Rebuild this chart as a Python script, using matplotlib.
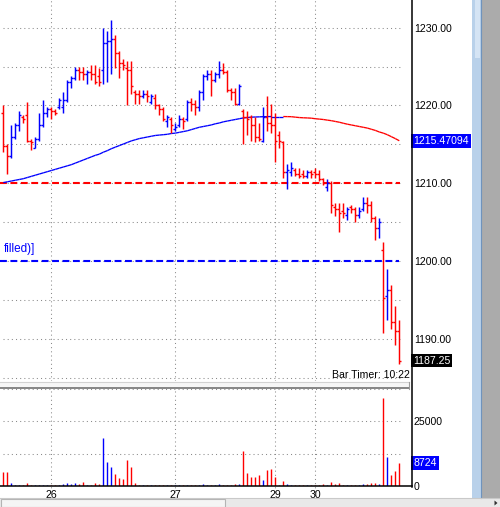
import matplotlib
matplotlib.use('Agg')
import matplotlib.pyplot as plt
from matplotlib.collections import LineCollection
from matplotlib.patches import Rectangle, Polygon
import numpy as np

plt.rcParams['font.family'] = ['Liberation Sans', 'DejaVu Sans']

# ---------------- data ----------------
opens = [1219.0, 1214.75, 1213.5, 1216.0, 1217.5, 1218.5, 1218.75, 1215.5, 1214.5, 1215.75,
         1217.5, 1219.0, 1219.5, 1219.25, 1219.75, 1219.75, 1220.75, 1223.0, 1223.5, 1224.5,
         1224.25, 1224.0, 1224.25, 1224.0, 1223.75, 1224.5, 1228.0, 1228.25, 1228.5, 1226.75,
         1225.5, 1224.75, 1224.5, 1221.75, 1221.5, 1221.25, 1221.5, 1220.5, 1221.0, 1220.0,
         1219.5, 1218.0, 1218.25, 1217.0, 1217.5, 1218.25, 1218.25, 1220.5, 1220.25, 1219.75,
         1221.75, 1223.75, 1224.0, 1223.25, 1224.0, 1224.5, 1224.25, 1222.0, 1221.75, 1220.25,
         1219.25, 1218.5, 1218.5, 1217.5, 1216.0, 1215.5, 1218.5, 1217.75, 1217.5, 1216.25,
         1215.25, 1211.5, 1211.5, 1211.75, 1211.25, 1211.25, 1211.0, 1211.5, 1211.5, 1211.25,
         1210.5, 1209.5, 1210.0, 1207.0, 1206.75, 1206.5, 1206.0, 1207.0, 1206.75, 1206.0,
         1206.75, 1207.5, 1207.25, 1205.5, 1204.25, 1201.5, 1195.5, 1196.25, 1192.25, 1191.0]
highs = [1220.0, 1215.0, 1217.5, 1217.75, 1219.25, 1218.75, 1220.5, 1215.75, 1216.0, 1219.0,
         1220.75, 1219.75, 1219.75, 1219.5, 1221.0, 1221.75, 1223.25, 1223.75, 1225.0, 1225.0,
         1225.0, 1224.5, 1225.25, 1225.25, 1224.75, 1230.0, 1229.5, 1231.0, 1229.0, 1227.0,
         1226.0, 1225.75, 1225.75, 1222.0, 1222.0, 1222.0, 1222.0, 1221.5, 1221.5, 1220.25,
         1219.75, 1218.75, 1218.5, 1217.75, 1218.75, 1218.5, 1220.75, 1221.0, 1220.75, 1222.0,
         1224.0, 1224.5, 1224.5, 1224.25, 1225.75, 1225.5, 1224.5, 1222.25, 1222.25, 1222.75,
         1219.5, 1219.25, 1218.75, 1218.5, 1217.75, 1219.75, 1221.25, 1220.25, 1219.0, 1216.75,
         1215.5, 1212.5, 1212.75, 1212.0, 1212.0, 1211.75, 1211.75, 1211.75, 1212.0, 1211.75,
         1210.75, 1210.5, 1210.25, 1207.5, 1207.5, 1207.5, 1207.0, 1207.25, 1207.0, 1207.0,
         1208.25, 1208.25, 1207.75, 1205.75, 1205.5, 1202.5, 1199.0, 1197.0, 1194.25, 1192.5]
lows = [1214.0, 1211.25, 1213.25, 1215.75, 1216.75, 1217.75, 1215.25, 1214.25, 1214.5, 1215.5,
        1217.25, 1218.5, 1218.25, 1218.75, 1219.5, 1219.0, 1220.5, 1222.25, 1223.25, 1223.25,
        1223.25, 1222.75, 1223.25, 1222.75, 1222.5, 1222.75, 1223.0, 1224.0, 1224.75, 1223.5,
        1224.5, 1220.0, 1221.5, 1220.25, 1220.25, 1221.0, 1220.5, 1220.25, 1219.5, 1218.75,
        1218.0, 1217.25, 1216.5, 1216.75, 1217.25, 1217.0, 1218.0, 1219.25, 1218.75, 1219.25,
        1220.75, 1223.25, 1221.25, 1223.0, 1223.5, 1224.0, 1221.75, 1220.75, 1220.0, 1220.0,
        1215.0, 1216.25, 1215.5, 1215.25, 1215.5, 1215.25, 1216.75, 1216.5, 1212.75, 1214.5,
        1210.75, 1209.25, 1211.0, 1211.0, 1210.75, 1210.75, 1210.75, 1210.75, 1210.75, 1210.25,
        1209.75, 1209.0, 1206.25, 1205.75, 1203.75, 1205.5, 1205.25, 1206.25, 1205.0, 1205.5,
        1206.5, 1206.25, 1205.0, 1202.75, 1203.0, 1190.75, 1192.5, 1191.25, 1189.25, 1186.75]
closes = [1214.75, 1213.5, 1216.0, 1217.5, 1218.75, 1218.25, 1215.5, 1215.25, 1215.75, 1217.5,
          1219.0, 1219.5, 1219.25, 1219.0, 1220.75, 1220.75, 1223.0, 1223.5, 1224.5, 1224.25,
          1224.0, 1224.25, 1224.0, 1223.0, 1223.0, 1228.0, 1228.25, 1228.5, 1226.75, 1225.5,
          1225.25, 1224.5, 1222.5, 1221.5, 1221.25, 1221.5, 1221.25, 1221.25, 1220.0, 1219.5,
          1218.25, 1218.5, 1217.5, 1217.25, 1218.25, 1218.0, 1220.5, 1220.25, 1219.75, 1221.75,
          1223.75, 1224.0, 1223.25, 1224.0, 1224.5, 1224.25, 1222.0, 1221.75, 1220.25, 1222.5,
          1218.5, 1218.25, 1217.5, 1216.0, 1215.75, 1218.5, 1217.75, 1217.5, 1215.5, 1215.5,
          1211.5, 1211.75, 1212.0, 1211.25, 1211.0, 1211.0, 1211.5, 1211.25, 1211.25, 1210.5,
          1210.0, 1210.0, 1207.25, 1206.75, 1206.25, 1206.25, 1206.75, 1206.75, 1206.0, 1206.5,
          1207.5, 1207.25, 1205.5, 1204.25, 1205.0, 1195.25, 1196.25, 1192.25, 1191.0, 1187.25]
volumes = [5400, 5400, 1150, 500, 500, 400, 1150, 400, 400, 400,
           400, 400, 400, 400, 400, 800, 1150, 800, 1150, 800,
           1500, 400, 400, 1150, 800, 18460, 9360, 7300, 4600, 3100,
           2700, 10000, 7300, 1150, 400, 400, 400, 400, 400, 400,
           400, 400, 400, 400, 400, 400, 400, 400, 400, 400,
           800, 400, 400, 400, 800, 400, 400, 400, 800, 800,
           13460, 5000, 3460, 3460, 4230, 2300, 6150, 6540, 3460, 400,
           1900, 800, 400, 400, 400, 400, 400, 400, 400, 400,
           800, 400, 1500, 800, 1150, 400, 400, 400, 400, 400,
           800, 800, 1150, 1150, 800, 33850, 11150, 4230, 5770, 8724]
ma_values = [1210.1, 1210.2, 1210.3, 1210.4, 1210.5, 1210.6, 1210.75, 1210.9, 1211.05, 1211.2,
             1211.35, 1211.5, 1211.65, 1211.8, 1211.95, 1212.1, 1212.25, 1212.4, 1212.6, 1212.8,
             1213.0, 1213.2, 1213.4, 1213.6, 1213.75, 1214.0, 1214.2, 1214.45, 1214.65, 1214.85,
             1215.05, 1215.25, 1215.45, 1215.6, 1215.75, 1215.85, 1215.95, 1216.05, 1216.15, 1216.2,
             1216.25, 1216.3, 1216.4, 1216.45, 1216.55, 1216.65, 1216.75, 1216.9, 1217.05, 1217.2,
             1217.3, 1217.4, 1217.5, 1217.65, 1217.75, 1217.9, 1218.0, 1218.1, 1218.2, 1218.3,
             1218.4, 1218.45, 1218.5, 1218.52, 1218.54, 1218.56, 1218.57, 1218.58, 1218.58, 1218.58,
             1218.58, 1218.57, 1218.56, 1218.5, 1218.45, 1218.42, 1218.4, 1218.37, 1218.3, 1218.25,
             1218.2, 1218.12, 1218.05, 1217.95, 1217.85, 1217.72, 1217.6, 1217.5, 1217.4, 1217.3,
             1217.2, 1217.1, 1216.95, 1216.8, 1216.6, 1216.45, 1216.25, 1216.0, 1215.75, 1215.47094]
date_ticks = [12, 43, 68, 78]
date_labels = ['26', '27', '29', '30']
price_ticks = [1190, 1200, 1210, 1220, 1230]
grid_levels = [1185, 1190, 1195, 1200, 1205, 1210, 1215, 1220, 1225, 1230]
red_level = 1210.0
blue_level = 1200.0
vol_ticks = [0, 25000]
vol_grid = [12500, 25000, 37300]
ma_label = '1215.47094'
level_text = 'filled)]'
timer_text = 'Bar Timer: 10:22'

# ---------------- layout ----------------
W, H = 500, 507
fig = plt.figure(figsize=(W / 100, H / 100), dpi=100)
fig.patch.set_facecolor('white')


def px_axes(x0, y0, x1, y1, **kw):
    return fig.add_axes([x0 / W, 1 - y1 / H, (x1 - x0) / W, (y1 - y0) / H], **kw)


ax = px_axes(0, 0, 411, 381)
axv = px_axes(0, 388.5, 411, 486)

n = len(closes)
idx = np.arange(n)
xlim = (-0.825, (411 - 3.3) / 4)
for a in (ax, axv):
    a.set_xlim(*xlim)
    a.set_facecolor('white')
    for s in a.spines.values():
        s.set_visible(False)
ax.set_ylim(1184.63, 1233.54)
axv.set_ylim(0, 37500)

blue = '#0000ff'
red = '#ff0000'
gcol = '#8a8a8a'
dots = (0, (1, 3))
gx0, gx1 = -0.1, 99.2

# grid
ax.hlines(grid_levels, gx0, gx1, colors=gcol, linestyles=dots, lw=0.75, zorder=1)
axv.hlines(vol_grid, gx0, gx1, colors=gcol, linestyles=dots, lw=0.75, zorder=1)
for t in date_ticks:
    ax.axvline(t, color=gcol, ls=dots, lw=0.75, zorder=1)
    axv.axvline(t, ymin=-0.06, ymax=1, color=gcol, ls=dots, lw=0.75, zorder=1, clip_on=False)

# level lines
ax.hlines([red_level], -0.825, 99.2, colors=red, lw=1.5, linestyles=(0, (3.3, 1.7)), zorder=2)
ax.hlines([blue_level], -0.825, 98.8, colors=blue, lw=1.5, linestyles=(0, (3.3, 1.7)), zorder=2)
ax.text(0.2, 1201.6, level_text, color=blue, fontsize=8.5, ha='left', va='center', zorder=3)

# OHLC bars
cols = [blue if c >= o else red for o, c in zip(opens, closes)]
ax.vlines(idx, lows, highs, colors=cols, lw=1.05, zorder=4)
ax.hlines(opens, idx - 0.5, idx, colors=cols, lw=1.0, zorder=4)
ax.hlines(closes, idx, idx + 0.5, colors=cols, lw=1.0, zorder=4)

# moving average (coloured by direction)
ma = np.array(ma_values)
pts = np.column_stack([idx, ma])
segs = np.stack([pts[:-1], pts[1:]], axis=1)
segcols = [blue if ma[i + 1] >= ma[i] else red for i in range(n - 1)]
ax.add_collection(LineCollection(segs, colors=segcols, lw=0.95, zorder=3))

# volume
axv.vlines(idx, 0, volumes, colors=cols, lw=1.0, zorder=3)

# axes ticks / labels
ax.set_xticks([])
ax.yaxis.tick_right()
ax.set_yticks(price_ticks)
ax.set_yticklabels([f'{p:.2f}' for p in price_ticks])
ax.tick_params(axis='y', length=0, pad=2.2, labelsize=7.6, labelcolor='black')

axv.yaxis.tick_right()
axv.set_yticks(vol_ticks)
axv.set_yticklabels([str(v) for v in vol_ticks])
axv.tick_params(axis='y', length=0, pad=1.6, labelsize=7.6, labelcolor='black')
axv.set_xticks(date_ticks)
axv.set_xticklabels(date_labels)
axv.tick_params(axis='x', length=0, pad=2.6, labelsize=7.6, labelcolor='black')

# value boxes on the right
lab_x = 413.2 / 411
ax.text(lab_x, ma[-1], ma_label, transform=ax.get_yaxis_transform(), ha='left', va='center',
        color='white', fontsize=7.6, clip_on=False, zorder=6,
        bbox=dict(boxstyle='square,pad=0.18', fc=blue, ec='none'))
ax.text(lab_x, closes[-1], f'{closes[-1]:.2f}', transform=ax.get_yaxis_transform(), ha='left',
        va='center', color='white', fontsize=7.6, clip_on=False, zorder=6,
        bbox=dict(boxstyle='square,pad=0.18', fc='black', ec='none'))
axv.text(lab_x, volumes[-1], str(volumes[-1]), transform=axv.get_yaxis_transform(), ha='left',
         va='center', color='white', fontsize=7.6, clip_on=False, zorder=6,
         bbox=dict(boxstyle='square,pad=0.18', fc=blue, ec='none'))

# ---------------- overlay chrome (pixel coordinates) ----------------
ov = fig.add_axes([0, 0, 1, 1], zorder=10)
ov.set_xlim(0, W)
ov.set_ylim(H, 0)
ov.axis('off')
ov.patch.set_alpha(0)

ov.text(410, 375, timer_text, ha='right', va='center', fontsize=7.6, color='black')
# separator between panels
ov.add_patch(Rectangle((0, 382), 409, 6.3, fc='#f6f6f6', ec='none'))
ov.plot([0, 409], [382.3, 382.3], color='#d2d2d2', lw=0.8)
ov.plot([0, 409], [388.2, 388.2], color='#7c7c7c', lw=1.3)
ov.plot([408.6, 408.6], [382, 388.5], color='#9c9c9c', lw=0.8)
# axis lines
ov.plot([411.5, 411.5], [0, 486.5], color='black', lw=1.1)
ov.plot([0, 411.5], [486.2, 486.2], color='black', lw=1.1)
# right chrome
ov.add_patch(Rectangle((472, 0), 9, 498, fc='#b9d1ea', ec='none'))
ov.add_patch(Rectangle((475, 0), 5, 58, fc='#d5e4f4', ec='none'))
ov.plot([481.3, 481.3], [0, 498], color='#6f93bd', lw=0.8)
ov.add_patch(Rectangle((482, 0), 18, 498, fc='#ababab', ec='none'))
# bottom scrollbar
ov.add_patch(Rectangle((0, 497.5), 500, 9.5, fc='#e9e9e9', ec='none'))
ov.plot([0, 500], [497.8, 497.8], color='#c9c9c9', lw=0.8)
ov.add_patch(Rectangle((0.5, 498.5), 224.5, 8.5, fc='#f5f5f5', ec='#b4b4b4', lw=0.8))
ov.add_patch(Polygon([[494.5, 500.5], [494.5, 505.5], [497.5, 503]], closed=True,
                     fc='#303030', ec='none'))

fig.savefig('out.png', dpi=100, facecolor='white')
